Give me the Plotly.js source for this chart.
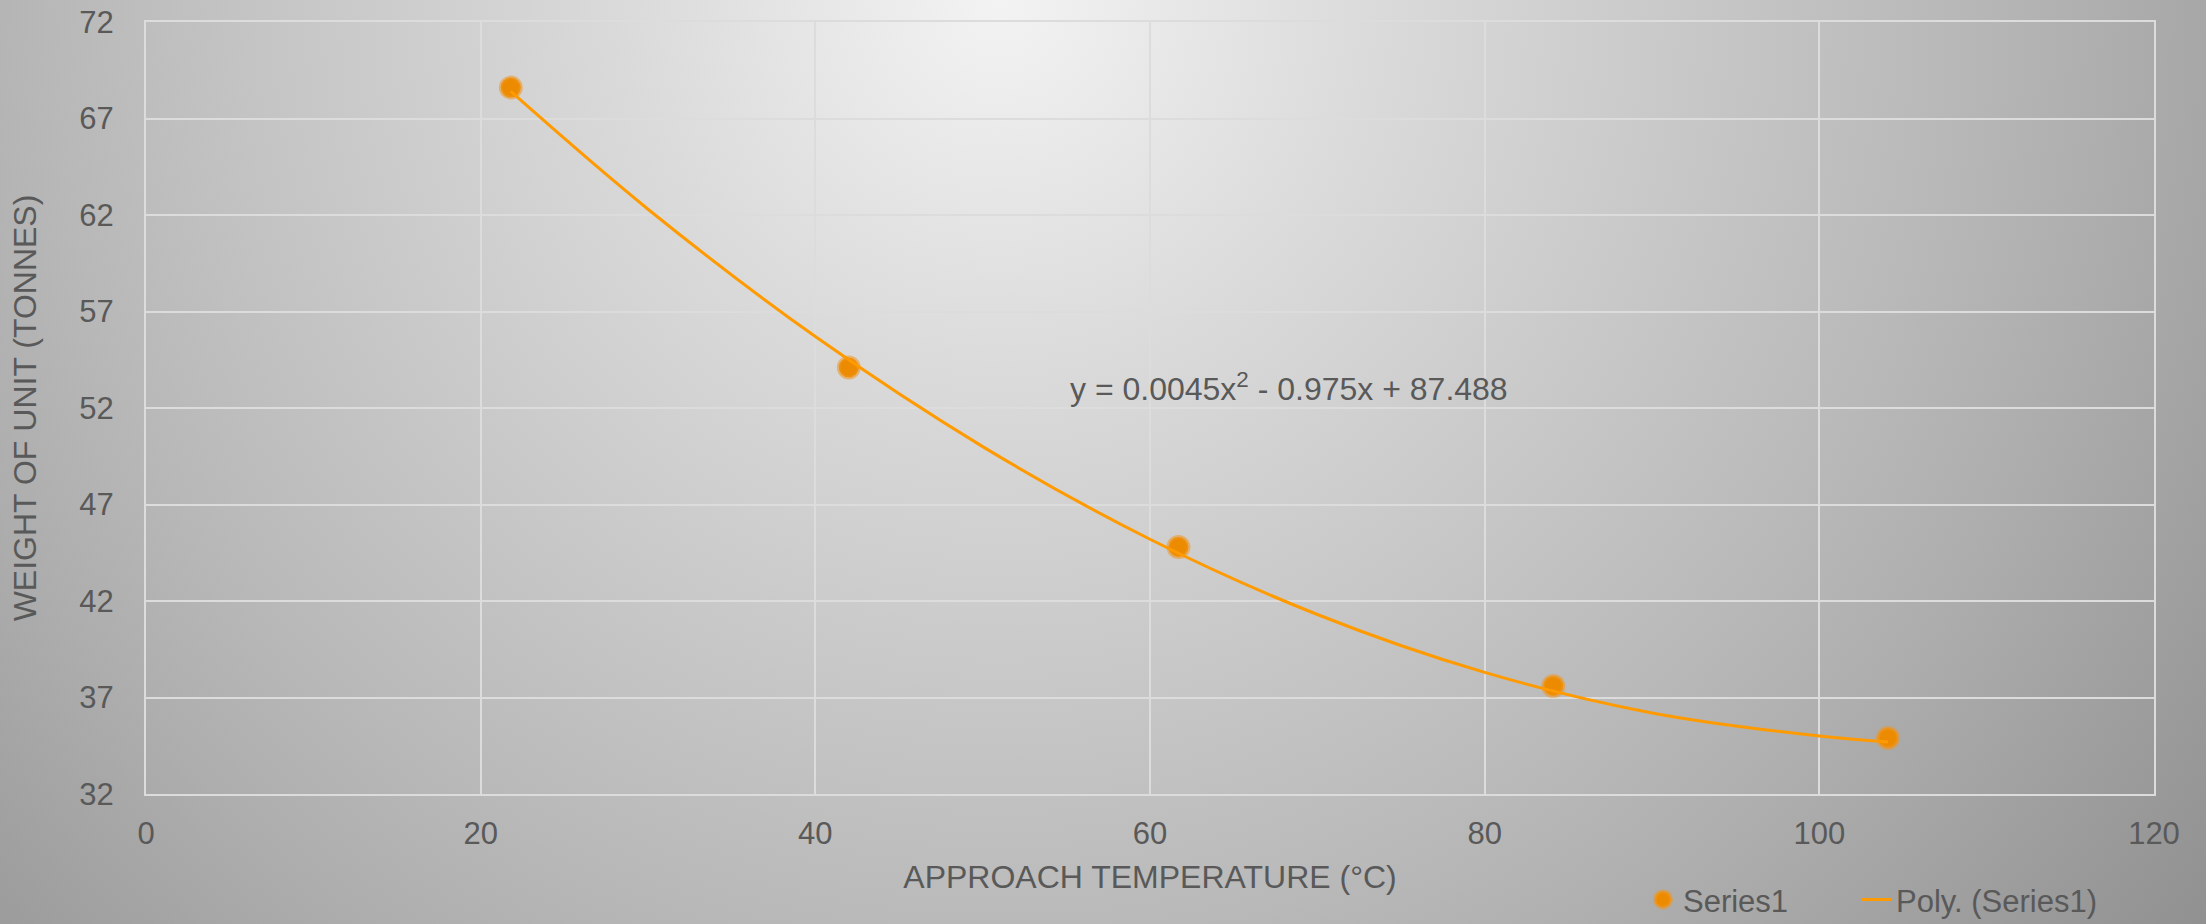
<!DOCTYPE html>
<html>
<head>
<meta charset="utf-8">
<script src="https://cdn.plot.ly/plotly-3.0.1.min.js"></script>
<style>
html, body { margin: 0; padding: 0; }
#chart {
  width: 2206px; height: 924px;
  background: radial-gradient(ellipse 1400px 1400px at 1000px 0px,
    #f3f3f3 0%, #dadada 27%, #b8b8b8 68%, #adadad 80%, #9c9c9c 97%, #8f8f8f 110%);
}
</style>
</head>
<body>
<div id="chart"></div>
<script>
// ---- data ----
const temperatures = [21.8, 42.0, 61.7, 84.1, 104.1];
const weights = [68.6, 54.1, 44.8, 37.6, 34.9];
const trendTemperatures = [21.8, 30, 40, 50, 60, 70, 80, 90, 100, 104.1];
const trendWeights = [68.4, 62.3, 55.7, 50.0, 45.2, 41.3, 38.3, 36.2, 35.0, 34.7];
const xTickValues = [0, 20, 40, 60, 80, 100, 120];
const yTickValues = [32, 37, 42, 47, 52, 57, 62, 67, 72];
const seriesName = 'Series1';
const trendName = 'Poly. (Series1)';
const equationText = 'y = 0.0045x<sup>2</sup> - 0.975x + 87.488';
const chartTitle = 'Approach Temperature v Weight';
const xTitle = 'APPROACH TEMPERATURE (°C)';
const yTitle = 'WEIGHT OF UNIT (TONNES)';

const FONT = 'Liberation Sans, Arial, sans-serif';
const TXT = '#595959';
const GRID = '#dcdcdc';

const traces = [
  {
    type: 'scatter', mode: 'markers', name: seriesName, legend: 'legend',
    x: temperatures, y: weights,
    marker: { size: 20, color: '#EC8B00', line: { width: 4, color: 'rgba(240,150,30,0.55)' } }
  },
  {
    type: 'scatter', mode: 'lines', name: trendName, legend: 'legend2',
    x: trendTemperatures, y: trendWeights,
    line: { shape: 'spline', color: '#FF9A00', width: 3 }
  }
];

const legendBase = {
  orientation: 'h', xanchor: 'left', y: -0.137, yanchor: 'middle',
  bgcolor: 'rgba(0,0,0,0)', borderwidth: 0,
  font: { family: FONT, size: 31, color: TXT }
};

const layout = {
  width: 2206, height: 924,
  margin: { l: 146, r: 52, t: 22, b: 130, pad: 0, autoexpand: false },
  paper_bgcolor: 'rgba(0,0,0,0)',
  plot_bgcolor: 'rgba(0,0,0,0)',
  font: { family: FONT, color: TXT, size: 31 },
  showlegend: true,
  xaxis: {
    range: [0, 120], tickmode: 'array', tickvals: xTickValues,
    showgrid: true, gridcolor: GRID, gridwidth: 1.5,
    zeroline: false, showline: true, linecolor: GRID, linewidth: 1.5, mirror: true,
    ticks: '', ticklabelstandoff: 11, automargin: false,
    tickfont: { family: FONT, size: 31, color: TXT },
    title: { text: xTitle, font: { family: FONT, size: 32, color: TXT }, standoff: 16 }
  },
  yaxis: {
    range: [32, 72], tickmode: 'array', tickvals: yTickValues,
    showgrid: true, gridcolor: GRID, gridwidth: 2,
    zeroline: false, showline: true, linecolor: GRID, linewidth: 2, mirror: true,
    ticks: '', ticklabelstandoff: 24, automargin: false,
    tickfont: { family: FONT, size: 31, color: TXT },
    title: { text: yTitle, font: { family: FONT, size: 32, color: TXT }, standoff: 33 }
  },
  legend: Object.assign({}, legendBase, { x: 0.7455 }),
  legend2: Object.assign({}, legendBase, { x: 0.8516 }),
  annotations: [
    {
      text: equationText, xref: 'x', yref: 'y', x: 55.1, y: 53.1,
      xanchor: 'left', yanchor: 'middle', showarrow: false,
      font: { family: FONT, size: 32, color: TXT }
    },
    {
      text: chartTitle, xref: 'paper', yref: 'paper', x: 0.4764, y: 1.031,
      xanchor: 'center', yanchor: 'bottom', showarrow: false,
      font: { family: FONT, size: 58, color: TXT }
    }
  ]
};

Plotly.newPlot('chart', traces, layout, { displayModeBar: false, responsive: false });
</script>
</body>
</html>
